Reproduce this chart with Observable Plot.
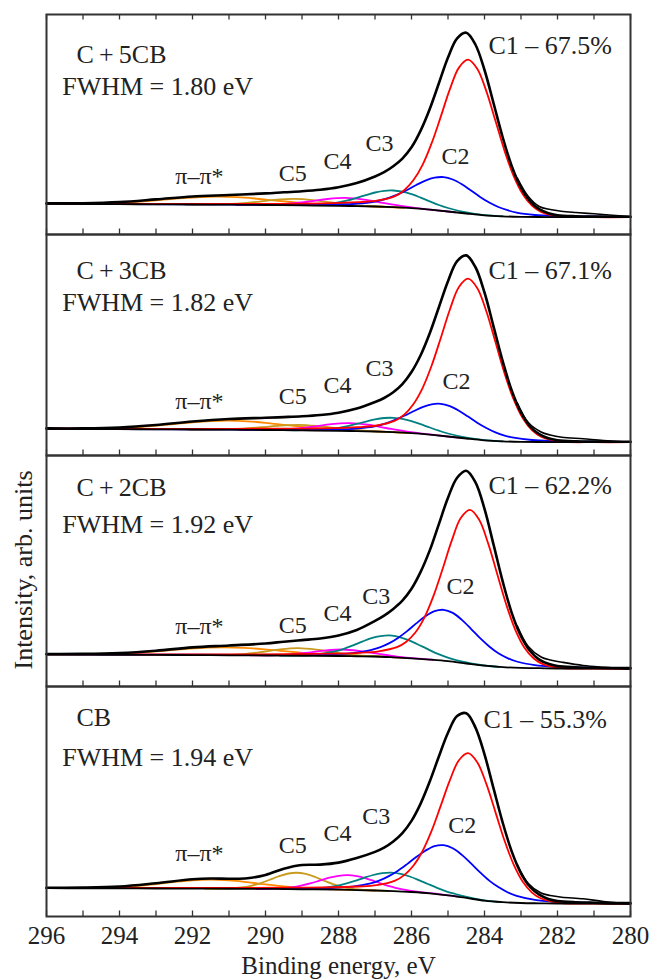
<!DOCTYPE html>
<html>
<head>
<meta charset="utf-8">
<script src="https://cdn.jsdelivr.net/npm/d3@7"></script>
<script src="https://cdn.jsdelivr.net/npm/@observablehq/plot@0.6"></script>
<style>
  html, body { margin: 0; padding: 0; background: #fff; }
  #chart { position: relative; width: 653px; height: 979px; font-family: "Liberation Serif", "Times New Roman", serif; }
  #chart > svg { position: absolute; left: 0; }
</style>
</head>
<body>
<div id="chart"></div>
<script>
// ---------------- DATA (binding energy eV, intensity arb. units) ----------------
const E_TICKS = [296, 294, 292, 290, 288, 286, 284, 282, 280];
const E_MINOR = [296, 295, 294, 293, 292, 291, 290, 289, 288, 287, 286, 285, 284, 283, 282, 281, 280];

const sampleNames = ["C\u2009+\u20095CB", "C\u2009+\u20093CB", "C\u2009+\u20092CB", "CB"];
const fwhmTexts = ["FWHM = 1.80 eV", "FWHM = 1.82 eV", "FWHM = 1.92 eV", "FWHM = 1.94 eV"];
const c1Texts = ["C1 \u2013 67.5%", "C1 \u2013 67.1%", "C1 \u2013 62.2%", "C1 \u2013 55.3%"];
const peakNames = ["C2", "C3", "C4", "C5", "\u03c0\u2013\u03c0*"];

// label anchors (eV, intensity)
const nameAt = [[295.18, 172], [295.18, 177], [295.18, 191], [295.18, 191]];
const fwhmAt = [[295.57, 140], [295.57, 145], [295.57, 154], [295.57, 151]];
const c1At = [[283.89, 181], [283.89, 177], [283.89, 193], [284.03, 189]];
const peakAt1 = [[285.18, 71], [287.26, 84], [288.41, 66], [289.64, 54], [292.47, 51]];
const peakAt2 = [[285.15, 67], [287.26, 80], [288.41, 63], [289.64, 52], [292.47, 47]];
const peakAt3 = [[285.04, 93], [287.35, 83], [288.41, 66], [289.64, 54], [292.47, 53]];
const peakAt4 = [[284.99, 84], [287.35, 93], [288.41, 76], [289.64, 64], [292.47, 56]];

// ---- Panel 1: C+5CB ----
const p1Bg = [[296,30.7],[295,30.5],[294,30.3],[293,30.2],[292,30.0],[291,29.8],[290,29.5],[289,29.1],[288,28.7],[287.5,28.4],[287,28.0],[286.5,27.3],[286,26.3],[285.5,24.8],[285,23.0],[284.5,21.0],[284,19.2],[283.5,18.2],[283,17.7],[282.5,17.5],[282,17.3],[281,17.3],[280,17.3]];
const p1C1 = [[296,31.0],[293,30.7],[290.95,30.7],[289.45,30.7],[288.45,31.1],[287.45,32.3],[286.95,33.8],[286.45,38.4],[286.2,44.3],[285.95,54.2],[285.7,69.4],[285.45,91.1],[285.2,117.6],[284.95,145.1],[284.7,166.9],[284.45,174.8],[284.2,165.8],[283.95,143.4],[283.7,113.7],[283.45,83.6],[283.2,58.4],[282.95,40.2],[282.7,28.8],[282.45,22.6],[281.95,18.1],[281,17.3],[280,17.3]];
const p1C2 = [[296,30.8],[292.12,30.2],[290.12,30.0],[289.12,29.8],[288.12,30.0],[287.62,30.5],[287.12,32.2],[286.87,34.0],[286.62,36.6],[286.37,40.1],[286.12,44.5],[285.87,49.5],[285.62,53.9],[285.37,56.8],[285.12,57.4],[284.87,55.0],[284.62,50.2],[284.37,44.0],[284.12,37.6],[283.87,32.0],[283.62,27.5],[283.37,24.3],[283.12,21.9],[282.62,19.5],[282.12,18.5],[281.12,18.0],[280.12,17.7],[280,17.7]];
const p1C3 = [[289.5,29.3],[289,29.4],[288.5,29.9],[288,32.2],[287.75,34.1],[287.5,36.7],[287.25,39.4],[287,42.0],[286.75,43.7],[286.5,44.0],[286.25,42.8],[286,40.3],[285.75,36.9],[285.5,33.2],[285.25,29.5],[285,26.5],[284.5,22.0],[284,19.4],[283.5,18.2]];
const p1C4 = [[290.8,29.75],[290.3,29.7],[289.8,29.9],[289.3,31.0],[288.8,33.0],[288.3,35.5],[287.8,36.6],[287.3,34.9],[286.8,31.7],[286.3,28.6],[285.8,26.2],[285.3,24.2],[284.8,22.2]];
const p1C5 = [[292.2,30.0],[291.7,30.0],[291.2,30.2],[290.7,31.0],[290.2,32.7],[289.7,34.8],[289.2,35.6],[288.7,34.4],[288.2,32.0],[287.7,29.7],[287.2,28.5],[286.7,27.7],[286.2,26.7]];
const p1PP = [[296,30.8],[295.3,30.8],[294.8,30.9],[294.3,31.3],[293.8,32.1],[293.3,33.3],[292.8,34.9],[292.3,36.4],[291.8,37.5],[291.3,37.8],[290.8,37.3],[290.3,36.0],[289.8,34.2],[289.3,32.5],[288.8,30.9],[288.3,29.8],[287.8,29.1],[287.3,28.4],[286.3,26.9]];
const p1Fit = [[296,31.2],[295,31.3],[294,32.4],[293,35.1],[292,38.0],[291,39.5],[290,41.1],[289.5,42.2],[289,43.2],[288.5,44.7],[288,47.2],[287.5,51.4],[287,58.0],[286.75,62.3],[286.5,68.2],[286.25,75.9],[286,87.2],[285.75,103.9],[285.5,125.5],[285.25,151.2],[285,177.0],[284.75,196.2],[284.5,201.8],[284.25,190.0],[284,164.5],[283.75,131.0],[283.5,97.0],[283.25,68.0],[283,46.8],[282.75,33.2],[282.5,25.3],[282.25,21.3],[282,19.3],[281.5,18.25],[281,17.9],[280.5,17.8],[280,17.75]];
const p1Data = [[283.1,56.5],[282.8,38],[282.5,28],[282.2,25],[281.9,23.3],[281.5,22.0],[281,20.7],[280.5,19.3],[280,18.0]];

// ---- Panel 2: C+3CB ----
const p2Bg = [[296,26.7],[295,26.5],[294,26.3],[293,26.2],[292,26.0],[291,25.8],[290,25.5],[289,25.1],[288,24.7],[287.5,24.4],[287,24.0],[286.5,23.3],[286,22.3],[285.5,20.8],[285,19.0],[284.5,17.0],[284,15.2],[283.5,14.2],[283,13.7],[282.5,13.5],[282,13.3],[281,13.3],[280,13.3]];
const p2C1 = [[296,27.0],[293,26.7],[290.95,26.7],[289.45,26.8],[288.45,27.1],[287.45,28.4],[286.95,30.0],[286.45,34.9],[286.2,40.9],[285.95,51.3],[285.7,67.2],[285.45,89.7],[285.2,117.3],[284.95,145.8],[284.7,168.5],[284.45,176.8],[284.2,167.5],[283.95,144.2],[283.7,113.4],[283.45,82.1],[283.2,56.0],[282.95,37.1],[282.7,25.3],[282.45,18.8],[281.95,14.1],[281,13.3],[280,13.3]];
const p2C2 = [[296,26.8],[292.2,26.2],[290.2,26.0],[289.2,25.8],[288.2,25.9],[287.7,26.4],[287.2,28.1],[286.95,29.7],[286.7,32.2],[286.45,35.6],[286.2,39.7],[285.95,44.2],[285.7,48.4],[285.45,51.2],[285.2,51.7],[284.95,49.4],[284.7,44.8],[284.45,38.9],[284.2,32.8],[283.95,27.5],[283.7,23.1],[283.45,19.9],[283.2,17.8],[282.7,15.5],[282.2,14.5],[281.2,13.9],[280.2,13.7],[280,13.7]];
const p2C3 = [[289.5,25.3],[289,25.3],[288.5,25.8],[288,27.7],[287.75,29.4],[287.5,31.6],[287.25,33.9],[287,36.1],[286.75,37.5],[286.5,37.7],[286.25,36.6],[286,34.4],[285.75,31.3],[285.5,28.0],[285.25,24.8],[285,22.0],[284.5,17.9],[284,15.4],[283.5,14.2]];
const p2C4 = [[290.7,25.7],[290.2,25.7],[289.7,25.9],[289.2,26.8],[288.7,28.8],[288.2,31.4],[287.7,32.3],[287.2,30.8],[286.7,27.5],[286.2,24.3],[285.7,21.9],[285.2,19.8],[284.7,17.8]];
const p2C5 = [[292.1,26.0],[291.6,26.0],[291.1,26.1],[290.6,26.9],[290.1,28.3],[289.6,29.9],[289.1,30.6],[288.6,29.5],[288.1,27.5],[287.6,25.7],[287.1,24.4],[286.6,23.6],[286.1,22.5]];
const p2PP = [[296,26.7],[295,26.7],[294.5,27.0],[294,27.5],[293.5,28.4],[293,29.8],[292.5,31.5],[292,33.2],[291.5,34.4],[291,34.8],[290.5,34.2],[290,32.7],[289.5,30.7],[289,28.7],[288.5,27.1],[288,25.9],[287.5,25.0],[287,24.2],[286,22.3]];
const p2Fit = [[296,27.1],[295,27.1],[294,28.0],[293,30.5],[292,34.0],[291,36.5],[290,37.7],[289.5,38.4],[289,39.2],[288.5,40.5],[288,42.8],[287.5,46.9],[287,53.5],[286.75,57.5],[286.5,63.2],[286.25,71.4],[286,83.5],[285.75,100.3],[285.5,122.3],[285.25,148.3],[285,174.3],[284.75,194.3],[284.5,200.1],[284.25,188.5],[284,163.0],[283.75,128.7],[283.5,94.1],[283.25,64.6],[283,43.1],[282.75,29.0],[282.5,21.3],[282.25,17.2],[282,15.3],[281.5,14.2],[281,13.9],[280.5,13.8],[280,13.7]];
const p2Data = [[283.1,52.5],[282.8,33],[282.45,23.5],[282.2,20.5],[281.88,18.3],[281.3,16.7],[280.74,15.0],[280,13.3]];

// ---- Panel 3: C+2CB ----
const p3Bg = [[296,32.0],[295,31.85],[294,31.7],[293,31.55],[292,31.4],[291,31.2],[290,31.0],[289,30.75],[288,30.5],[287.5,30.25],[287,30.0],[286.5,29.2],[286,28.2],[285.5,26.9],[285,25.3],[284.5,23.0],[284,20.8],[283.5,19.3],[283,18.6],[282.5,18.3],[282,18.0],[281,17.85],[280,17.7]];
const p3C1 = [[296,32.3],[292.9,32.0],[290.9,32.0],[289.4,32.25],[288.4,32.8],[287.4,33.7],[286.9,35.2],[286.4,39.3],[286.15,44.5],[285.9,53.7],[285.65,68.7],[285.4,90.4],[285.15,117.3],[284.9,145.6],[284.65,168.4],[284.4,176.6],[284.15,167.0],[283.9,143.1],[283.65,112.2],[283.4,81.5],[283.15,56.2],[282.9,38.5],[282.65,28.0],[282.4,22.4],[281.9,18.5],[281,17.85],[280,17.7]];
const p3C2 = [[296,32.2],[292.12,31.8],[290.12,31.7],[289.12,31.8],[288.12,32.4],[287.62,33.3],[287.12,36.3],[286.87,39.1],[286.62,43.1],[286.37,48.6],[286.12,55.4],[285.87,63.1],[285.62,70.2],[285.37,75.3],[285.12,76.7],[284.87,73.6],[284.62,66.6],[284.37,57.7],[284.12,48.3],[283.87,40.0],[283.62,33.2],[283.37,28.4],[283.12,25.0],[282.62,21.4],[282.12,19.9],[281.12,18.85],[280.12,18.4],[280,18.3]];
const p3C3 = [[289.6,30.8],[289.1,31.1],[288.6,32.0],[288.1,35.1],[287.85,37.7],[287.6,41.2],[287.35,44.9],[287.1,48.3],[286.85,50.4],[286.6,51.1],[286.35,49.7],[286.1,46.6],[285.85,42.5],[285.6,38.1],[285.35,33.7],[285.1,30.2],[284.85,27.2],[284.6,24.9],[284.1,21.5],[283.6,19.5]];
const p3C4 = [[290.4,31.1],[289.9,31.2],[289.4,31.8],[288.9,33.5],[288.4,35.8],[287.9,37.0],[287.4,35.4],[286.9,32.6],[286.4,29.9],[285.9,28.2],[285.4,26.6]];
const p3C5 = [[291.6,31.3],[291.1,31.5],[290.6,32.4],[290.1,34.5],[289.6,37.1],[289.1,38.3],[288.6,36.8],[288.1,34.0],[287.6,31.6],[287.1,30.4],[286.6,29.4]];
const p3PP = [[296,32.0],[295.1,32.0],[294.6,32.3],[294.1,32.7],[293.6,33.5],[293.1,34.8],[292.6,36.3],[292.1,37.8],[291.6,38.9],[291.1,39.2],[290.6,38.7],[290.1,37.4],[289.6,35.7],[289.1,34.0],[288.6,32.5],[288.1,31.5],[287.6,30.8],[287.1,30.3],[286.1,28.4]];
const p3Fit = [[296,32.5],[295,32.6],[294,33.5],[293,35.8],[292,39.1],[291,41.0],[290,43.0],[289.5,44.8],[289,46.4],[288.5,48.0],[288,51.0],[287.5,56.5],[287,65.6],[286.75,70.9],[286.5,77.6],[286.25,85.8],[286,97.7],[285.75,114.6],[285.5,136.1],[285.25,162.4],[285,188.8],[284.75,208.8],[284.5,215.8],[284.25,204.3],[284,177.6],[283.75,141.6],[283.5,104.8],[283.25,73.2],[283,50.4],[282.75,35.5],[282.5,26.9],[282.25,22.7],[282,20.5],[281.5,19.3],[281,18.75],[280.5,18.5],[280,18.4]];
const p3Data = [[283.1,60.5],[282.8,40],[282.45,29.5],[282.2,26.5],[281.88,24.3],[281.3,21.0],[280.74,19.3],[280,17.7]];

// ---- Panel 4: CB ----
const p4Bg = [[296,28.3],[295,28.2],[294,28.1],[293,28.0],[292,27.9],[291,27.75],[290,27.6],[289,27.2],[288,26.8],[287.5,26.4],[287,26.0],[286.5,25.4],[286,24.5],[285.5,23.2],[285,21.2],[284.5,18.6],[284,15.8],[283.5,14.3],[283,13.5],[282.5,13.2],[282,13.0],[281,12.8],[280,12.7]];
const p4C1 = [[296,28.6],[293,28.5],[290.95,28.5],[289.45,28.8],[288.45,29.0],[287.45,30.0],[286.95,31.4],[286.45,35.9],[286.2,41.4],[285.95,50.8],[285.7,65.3],[285.45,85.6],[285.2,110.6],[284.95,136.1],[284.7,156.3],[284.45,163.3],[284.2,154.3],[283.95,132.6],[283.7,104.4],[283.45,75.8],[283.2,51.9],[282.95,34.7],[282.7,23.9],[282.45,18.0],[281.95,13.7],[281,12.8],[280,12.7]];
const p4C2 = [[296,28.5],[292.12,28.3],[290.12,28.3],[289.12,28.2],[288.12,28.75],[287.62,29.9],[287.12,33.1],[286.87,36.05],[286.62,40.35],[286.37,45.8],[286.12,52.4],[285.87,59.5],[285.62,65.8],[285.37,70.4],[285.12,71.3],[284.87,68.2],[284.62,61.6],[284.37,53.1],[284.12,44.1],[283.87,35.9],[283.62,29.4],[283.37,24.3],[283.12,20.7],[282.62,16.7],[282.12,14.95],[281.12,13.8],[280.12,13.4],[280,13.4]];
const p4C3 = [[289.55,27.4],[289.05,27.4],[288.55,28.1],[288.05,30.7],[287.8,32.8],[287.55,35.6],[287.3,38.7],[287.05,41.5],[286.8,43.3],[286.55,43.8],[286.3,42.6],[286.05,40.0],[285.8,36.4],[285.55,32.5],[285.3,28.7],[285.05,25.2],[284.8,22.5],[284.55,20.0],[284.05,16.3],[283.55,14.4]];
const p4C4 = [[290.25,27.5],[289.75,27.9],[289.25,29.4],[289,31.1],[288.75,33.3],[288.5,36.1],[288.25,38.8],[288,40.7],[287.75,41.3],[287.5,40.3],[287.25,38.1],[287,35.1],[286.75,31.9],[286.5,29.3],[286.25,27.1],[285.75,24.4],[285.25,22.4],[284.75,20.0]];
const p4C5 = [[291.65,27.75],[291.15,27.95],[290.65,29.1],[290.4,30.65],[290.15,33.2],[289.9,36.5],[289.65,40.0],[289.4,42.75],[289.15,43.75],[288.9,42.55],[288.65,39.65],[288.4,35.95],[288.15,32.45],[287.9,29.7],[287.65,27.9],[287.15,26.3],[286.65,25.6]];
const p4PP = [[296,28.3],[295.5,28.3],[295,28.4],[294.5,28.75],[294,29.4],[293.5,30.65],[293,32.5],[292.5,34.55],[292,36.2],[291.5,36.8],[291,36.05],[290.5,34.3],[290,32.1],[289.5,30.0],[289,28.5],[288.5,27.6],[288,27.0],[287,26.0]];
const p4Fit = [[296,28.75],[295,28.9],[294,30.0],[293,33.3],[292,37.2],[291.5,38.0],[291,37.8],[290.5,38.2],[290,41.6],[289.5,47.8],[289,51.5],[288.5,51.9],[288,53.9],[287.5,58.5],[287,64.6],[286.75,68.8],[286.5,74.9],[286.25,83.35],[286,95.6],[285.75,112.9],[285.5,135.0],[285.25,160.0],[285,183.7],[284.75,200.4],[284.5,203.3],[284.25,189.1],[284,162.1],[283.75,127.8],[283.5,93.7],[283.25,64.6],[283,43.2],[282.75,29.55],[282.5,21.8],[282.25,17.5],[282,15.5],[281.5,14.25],[281,13.8],[280.5,13.55],[280,13.35]];
const p4Data = [[283.1,52],[282.8,33],[282.45,23.5],[282.2,21],[281.88,19.3],[281.3,17.7],[280.74,15.0],[280,12.7]];

// ---------------- LAYOUT ----------------
const FRAME_TOPS = [14, 234, 455, 686];
const FRAME_HEIGHTS = [220, 221, 231, 230];
const ML = 46, MR = 23, W = 653;
const FONT = "'Liberation Serif', 'Times New Roman', serif";
const TEXT = "#222";
const AX = "#333";
const COL = {c1: "#ff0000", c2: "#0000ff", c3: "#008080", c4: "#ff00ff", c5: "#c89b1e", pp: "#ff8a00"};

const panels = [
  {bg: p1Bg, c1: p1C1, c2: p1C2, c3: p1C3, c4: p1C4, c5: p1C5, pp: p1PP, fit: p1Fit, data: p1Data, peakAt: peakAt1},
  {bg: p2Bg, c1: p2C1, c2: p2C2, c3: p2C3, c4: p2C4, c5: p2C5, pp: p2PP, fit: p2Fit, data: p2Data, peakAt: peakAt2},
  {bg: p3Bg, c1: p3C1, c2: p3C2, c3: p3C3, c4: p3C4, c5: p3C5, pp: p3PP, fit: p3Fit, data: p3Data, peakAt: peakAt3},
  {bg: p4Bg, c1: p4C1, c2: p4C2, c3: p4C3, c4: p4C4, c5: p4C5, pp: p4PP, fit: p4Fit, data: p4Data, peakAt: peakAt4}
];

const chart = document.getElementById("chart");
const X = d => d[0], Y = d => d[1];
const line = (data, stroke, w) => Plot.line(data, {x: X, y: Y, stroke, strokeWidth: w, curve: "catmull-rom", strokeLinejoin: "round"});

panels.forEach((p, k) => {
  const last = k === panels.length - 1;
  const H = FRAME_HEIGHTS[k];
  const mt = 2, mb = last ? 63 : 2;
  const marks = [
    line(p.pp, COL.pp, 1.8),
    line(p.c5, COL.c5, 1.8),
    line(p.c4, COL.c4, 1.8),
    line(p.c3, COL.c3, 1.8),
    line(p.c2, COL.c2, 1.8),
    line(p.c1, COL.c1, 1.8),
    line(p.bg, "#000", 1.8),
    line(p.data, "#000", 1.6),
    line(p.fit, "#000", 2.6),
    Plot.frame({stroke: AX, strokeWidth: 2}),
    Plot.ruleX(E_MINOR, {x: d => d, insetTop: H - 5.5, stroke: AX, strokeWidth: 1.3}),
    Plot.text([{e: nameAt[k][0], i: nameAt[k][1], t: sampleNames[k]}], {x: "e", y: "i", text: "t", textAnchor: "start", lineAnchor: "bottom", fontSize: 26, fill: TEXT}),
    Plot.text([{e: fwhmAt[k][0], i: fwhmAt[k][1], t: fwhmTexts[k]}], {x: "e", y: "i", text: "t", textAnchor: "start", lineAnchor: "bottom", fontSize: 26, fill: TEXT}),
    Plot.text([{e: c1At[k][0], i: c1At[k][1], t: c1Texts[k]}], {x: "e", y: "i", text: "t", textAnchor: "start", lineAnchor: "bottom", fontSize: 26, fill: TEXT}),
    Plot.text(peakNames.map((t, j) => ({t, e: p.peakAt[j][0], i: p.peakAt[j][1]})), {x: "e", y: "i", text: "t", textAnchor: "start", lineAnchor: "bottom", fontSize: 24, fill: TEXT})
  ];
  if (k === 0) marks.push(Plot.ruleX(E_MINOR, {x: d => d, insetBottom: H - 5.5, stroke: AX, strokeWidth: 1.3}));
  if (last) {
    marks.push(Plot.axisX(E_TICKS, {anchor: "bottom", tickSize: 0, tickPadding: 9.5, fontSize: 25, label: null, tickFormat: d => String(d), fill: TEXT}));
    marks.push(Plot.text(["Binding energy, eV"], {frameAnchor: "bottom", dy: 57, lineAnchor: "bottom", fontSize: 25, fill: TEXT}));
  }
  const svg = Plot.plot({
    width: W,
    height: H + mt + mb,
    marginLeft: ML, marginRight: MR, marginTop: mt, marginBottom: mb,
    x: {domain: [296, 280], axis: null},
    y: {domain: [0, H], axis: null},
    style: {background: "transparent", fontFamily: FONT, color: TEXT, overflow: "visible"},
    marks
  });
  svg.style.position = "absolute";
  svg.style.left = "0px";
  svg.style.top = (FRAME_TOPS[k] - mt) + "px";
  chart.appendChild(svg);
});

// y-axis title spanning the stack
const ov = d3.select(chart).append("svg")
  .attr("width", W).attr("height", 979)
  .style("position", "absolute").style("left", "0px").style("top", "0px")
  .style("pointer-events", "none");
ov.append("text")
  .attr("transform", "translate(32,570) rotate(-90)")
  .attr("text-anchor", "middle")
  .attr("font-family", FONT)
  .attr("font-size", 26)
  .attr("fill", TEXT)
  .text("Intensity, arb. units");
</script>
</body>
</html>
